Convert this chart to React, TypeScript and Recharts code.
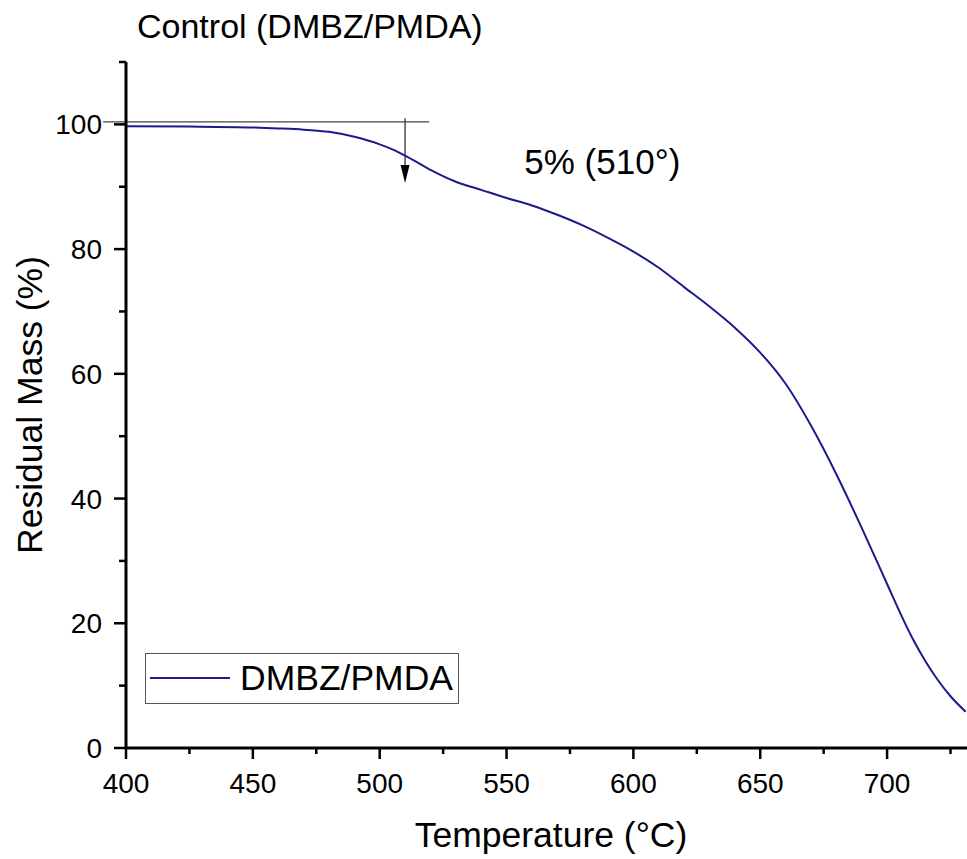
import React from 'react'
import { LineChart, Line, XAxis, YAxis, Legend, ReferenceLine, ReferenceDot } from 'recharts'

// TGA trace
const temperature = [400, 425, 450, 460, 470, 480, 490, 500, 505, 510, 520, 530, 540, 550, 560, 570, 580, 590, 600, 610, 620, 630, 640, 650, 660, 670, 680, 690, 700, 705, 710, 715, 720, 725, 731]
const residualMass = [99.7, 99.65, 99.5, 99.35, 99.15, 98.8, 98.0, 96.8, 96.0, 95.0, 92.7, 90.8, 89.5, 88.2, 87.0, 85.5, 83.8, 81.8, 79.6, 77.0, 73.9, 70.8, 67.4, 63.4, 58.4, 51.7, 43.9, 35.3, 26.3, 21.8, 17.6, 14.0, 10.9, 8.3, 5.8]

const xTicks = [400, 425, 450, 475, 500, 525, 550, 575, 600, 625, 650, 675, 700, 725]
const yTicks = [0, 10, 20, 30, 40, 50, 60, 70, 80, 90, 100, 110]

const seriesName = 'DMBZ/PMDA'
const chartTitle = 'Control (DMBZ/PMDA)'
const xTitle = 'Temperature (°C)'
const yTitle = 'Residual Mass (%)'
const onsetLabel = '5% (510°)'

const FONT = '"Liberation Sans", Arial, sans-serif'
const LINE_COLOR = '#1b1b8c'

const data = temperature.map((t, i) => ({ t, mass: residualMass[i] }))

const XTick = (props: any) =>
{
    const { x, y, payload } = props
    const major = payload.value % 50 === 0
    return (
        <g>
            <line x1={x} x2={x} y1={y} y2={y + (major ? 11 : 6)} stroke="#000" strokeWidth={2.5} />
            {major && (
                <text x={x} y={y + 45} textAnchor="middle" fontSize={28} fontFamily={FONT} fill="#000">
                    {payload.value}
                </text>
            )}
        </g>
    )
}

const YTick = (props: any) =>
{
    const { x, y, payload } = props
    const major = payload.value % 20 === 0
    return (
        <g>
            <line x1={x} x2={x - (major ? 12 : 7)} y1={y} y2={y} stroke="#000" strokeWidth={2.5} />
            {major && (
                <text x={x - 24} y={y + 10} textAnchor="end" fontSize={28} fontFamily={FONT} fill="#000">
                    {payload.value}
                </text>
            )}
        </g>
    )
}

const LegendBox = () => (
    <svg width={314} height={51}>
        <rect x={0.5} y={0.5} width={313} height={50} fill="#fff" stroke="#555" strokeWidth={1} />
        <line x1={5} x2={85} y1={25} y2={25} stroke={LINE_COLOR} strokeWidth={2} />
        <text x={95} y={37} fontSize={35.5} fontFamily={FONT} fill="#000">{seriesName}</text>
    </svg>
)

const ArrowHead = (props: any) =>
{
    const { cx, cy } = props
    return <path d={`M${cx - 4.5},${cy - 18} L${cx + 4.5},${cy - 18} L${cx},${cy} Z`} fill="#000" />
}

const Annotation = (props: any) =>
{
    const { cx, cy } = props
    return (
        <text x={cx} y={cy} fontSize={35} fontFamily={FONT} fill="#000">{onsetLabel}</text>
    )
}

const App = () =>
{
    return (
        <div style={{ position: 'absolute', left: 0, top: 0, width: 967, height: 859, background: '#fff' }}>
            <LineChart
                width={967}
                height={859}
                data={data}
                margin={{ top: 62, right: 0, bottom: 0, left: 0 }}
            >
                <XAxis
                    dataKey="t"
                    type="number"
                    domain={[400, 731.5]}
                    ticks={xTicks}
                    allowDataOverflow
                    height={111}
                    tickSize={0}
                    tickMargin={0}
                    tickLine={false}
                    axisLine={{ stroke: '#000', strokeWidth: 3 }}
                    tick={<XTick />}
                    interval={0}
                />
                <XAxis
                    xAxisId="top"
                    orientation="top"
                    dataKey="t"
                    type="number"
                    domain={[400, 731.5]}
                    height={0}
                    tick={false}
                    tickLine={false}
                    axisLine={{ stroke: '#000', strokeWidth: 3 }}
                />
                <YAxis
                    type="number"
                    domain={[0, 110]}
                    ticks={yTicks}
                    width={126}
                    tickSize={0}
                    tickMargin={0}
                    tickLine={false}
                    axisLine={{ stroke: '#000', strokeWidth: 3 }}
                    tick={<YTick />}
                    interval={0}
                />
                <ReferenceLine
                    segment={[{ x: 391, y: 100.4 }, { x: 519.5, y: 100.4 }]}
                    stroke="#444"
                    strokeWidth={1.3}
                    ifOverflow="visible"
                />
                <ReferenceLine
                    segment={[{ x: 510, y: 101 }, { x: 510, y: 93 }]}
                    stroke="#333"
                    strokeWidth={1.3}
                    ifOverflow="visible"
                />
                <ReferenceDot x={510} y={90.6} r={0} shape={<ArrowHead />} ifOverflow="visible" />
                <ReferenceDot x={557} y={92.1} r={0} shape={<Annotation />} ifOverflow="visible" />
                <Line
                    type="monotone"
                    dataKey="mass"
                    name={seriesName}
                    stroke={LINE_COLOR}
                    strokeWidth={2}
                    dot={false}
                    isAnimationActive={false}
                />
                <Legend
                    layout="horizontal"
                    verticalAlign="middle"
                    align="center"
                    content={<LegendBox />}
                    wrapperStyle={{ left: 145, top: 653, width: 314, height: 51 }}
                />
                <text x={137} y={38} fontSize={34} fontFamily={FONT} fill="#000">{chartTitle}</text>
                <text x={551} y={847} textAnchor="middle" fontSize={35.5} fontFamily={FONT} fill="#000">{xTitle}</text>
                <text
                    transform="translate(42,405) rotate(-90)"
                    textAnchor="middle"
                    fontSize={35.5}
                    fontFamily={FONT}
                    fill="#000"
                >
                    {yTitle}
                </text>
            </LineChart>
        </div>
    )
}

export default App
